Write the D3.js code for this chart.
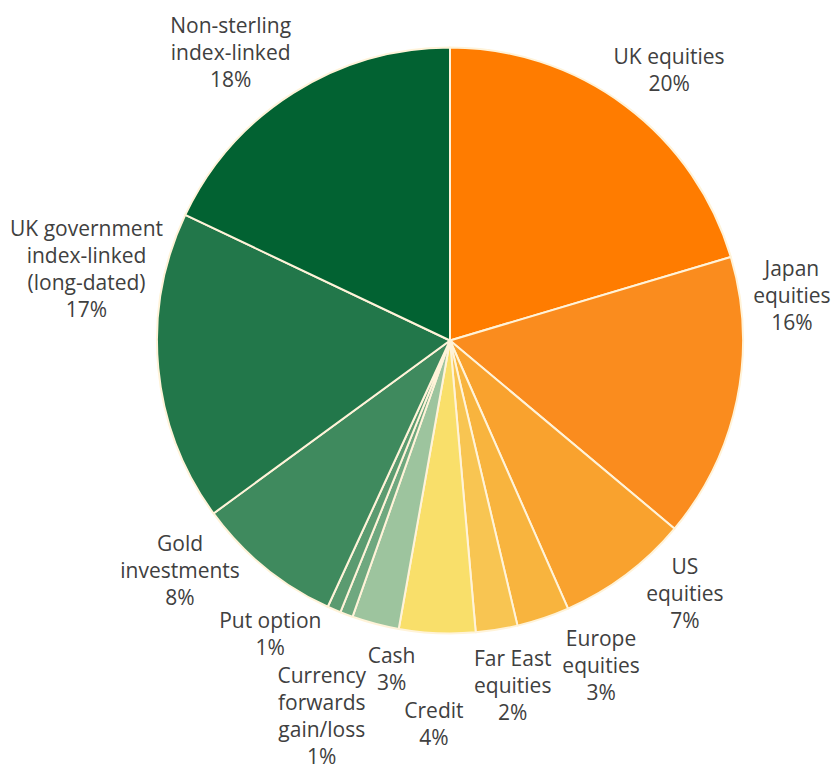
<!DOCTYPE html>
<html>
<head>
<meta charset="utf-8">
<script src="https://cdn.jsdelivr.net/npm/d3@7"></script>
<style>
  body { margin: 0; background: #fff; }
  svg { display: block; }
  .lbl { font-family: "Open Sans", "Noto Sans", sans-serif; font-size: 21px; fill: #404040; }
</style>
</head>
<body>
<svg id="chart"></svg>
<script>
// asset allocation (%), clockwise from 12 o'clock
const categories = [
  "UK equities", "Japan equities", "US equities", "Europe equities",
  "Far East equities", "Credit", "Cash", "Currency forwards gain/loss",
  "Put option", "Gold investments", "UK government index-linked (long-dated)",
  "Non-sterling index-linked"
];
const values = [20.4, 15.7, 7.3, 2.9, 2.3, 4.2, 2.6, 0.7, 0.75, 8.1, 17.1, 17.95];
const labelLines = [
  ["UK equities"], ["Japan", "equities"], ["US", "equities"], ["Europe", "equities"],
  ["Far East", "equities"], ["Credit"], ["Cash"], ["Currency", "forwards", "gain/loss"],
  ["Put option"], ["Gold", "investments"], ["UK government", "index-linked", "(long-dated)"],
  ["Non-sterling", "index-linked"]
];
const colors = [
  "#FF7C00", "#FA8C1E", "#F9A22E", "#F8B43E", "#F8C552", "#F9DF6A",
  "#9DC49E", "#6FA87F", "#5B9B70", "#3F8A5E", "#22774A", "#026232"
];

// label placement tweaks (like the hand-dragged labels in the original)
const labelNudge = [
  [14, 5], [6, -114], [29, -21], [42, 0], [8, 7], [-1, 41],
  [29, -3], [-7, 55], [-44, -21], [-53, -36], [-22, -104], [-36, 2]
];

const width = 834, height = 771;
const cx = 450, cy = 340.5, radius = 293;
const lineH = 27;

const svg = d3.select("#chart")
  .attr("width", width)
  .attr("height", height);

const g = svg.append("g")
  .attr("transform", "translate(" + cx + "," + cy + ")");

const pie = d3.pie().sort(null).value(d => d);
const arcs = pie(values);

const arc = d3.arc().innerRadius(0).outerRadius(radius);
const labelArc = d3.arc().innerRadius(radius + 50).outerRadius(radius + 50);

g.selectAll("path.slice")
  .data(arcs)
  .enter().append("path")
  .attr("class", "slice")
  .attr("d", arc)
  .attr("fill", (d, i) => colors[i])
  .attr("stroke", "#FFF3D9")
  .attr("stroke-width", 2)
  .attr("stroke-linejoin", "round");

const fmt = d3.format(".0f");

const labels = g.selectAll("text.lbl")
  .data(arcs)
  .enter().append("text")
  .attr("class", "lbl")
  .attr("text-anchor", "middle");

labels.each(function (d, i) {
  let c = labelArc.centroid(d);
  let x = c[0] + labelNudge[i][0];
  let y = c[1] + labelNudge[i][1];
  let lines = labelLines[i].concat([fmt(values[i]) + "%"]);
  let top = y - (lines.length - 1) * lineH / 2;
  let t = d3.select(this);
  lines.forEach((s, k) => {
    t.append("tspan")
      .attr("x", x)
      .attr("y", top + k * lineH)
      .attr("dy", "0.35em")
      .text(s);
  });
});
</script>
</body>
</html>
